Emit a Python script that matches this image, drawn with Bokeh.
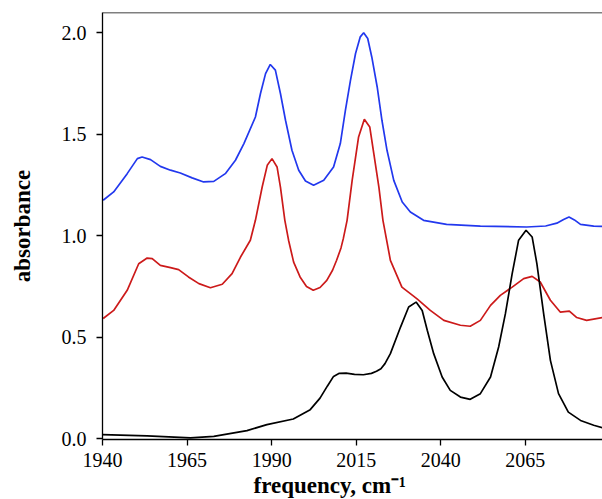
from bokeh.plotting import figure
from bokeh.models import Range1d, FixedTicker, Span, Title, CustomJSTickFormatter
from bokeh.embed import file_html
from bokeh.resources import INLINE

# ---- data ----
blue_f = [1940.2, 1943.3, 1947.3, 1950.3, 1951.7, 1954.2, 1957.1, 1960.1, 1963, 1966.5, 1969.9,
          1972.9, 1976.3, 1977.8, 1979.3, 1981.8, 1985.2, 1986.7, 1988.2, 1989.6, 1991.1, 1992.6,
          1994.1, 1996, 1998, 2000, 2002.4, 2005.4, 2008.3, 2010.3, 2011.8, 2013.3, 2014.8,
          2016.2, 2017.2, 2018.4, 2019.6, 2021.2, 2022.6, 2024.1, 2026.1, 2028.6, 2031, 2034.9,
          2041.7, 2051.7, 2065.4, 2071, 2074.3, 2076.3, 2077.9, 2079.5, 2081.3, 2085.2, 2087.8]
blue_a = [1.175, 1.216, 1.306, 1.38, 1.388, 1.375, 1.342, 1.323, 1.309, 1.285, 1.265,
          1.268, 1.306, 1.339, 1.372, 1.454, 1.585, 1.701, 1.799, 1.844, 1.816, 1.701,
          1.569, 1.421, 1.323, 1.27, 1.249, 1.273, 1.339, 1.454, 1.618, 1.766, 1.898,
          1.98, 2.0, 1.972, 1.881, 1.733, 1.569, 1.421, 1.273, 1.166, 1.117, 1.076,
          1.056, 1.047, 1.043, 1.048, 1.062, 1.08, 1.092, 1.078, 1.056, 1.047, 1.046]

red_f = [1940.2, 1943.3, 1947.3, 1950.7, 1953.2, 1954.7, 1957.1, 1960.1, 1962.5, 1965.4, 1968.5,
         1971.9, 1975.4, 1978.3, 1980.8, 1983.7, 1985.2, 1987.2, 1988.7, 1990.1, 1991.6, 1992.6,
         1993.9, 1995, 1996.5, 1998.4, 2000.3, 2002.3, 2004.3, 2006.3, 2008, 2009.2, 2010.5,
         2011.2, 2012.3, 2013.8, 2015.7, 2017.4, 2019, 2020.2, 2021.7, 2022.9, 2025.1, 2028.5,
         2032.9, 2036.9, 2040.9, 2045.8, 2048.7, 2051.7, 2054.7, 2057.6, 2061.1, 2064.5, 2067,
         2069.4, 2072.4, 2075.3, 2078, 2080.2, 2083.1, 2087.8]
red_a = [0.592, 0.632, 0.731, 0.862, 0.89, 0.887, 0.854, 0.843, 0.833, 0.797, 0.764,
         0.744, 0.761, 0.813, 0.895, 0.978, 1.076, 1.24, 1.347, 1.38, 1.339, 1.24,
         1.076, 0.978, 0.87, 0.797, 0.75, 0.731, 0.745, 0.78, 0.83, 0.879, 0.94,
         0.987, 1.076, 1.273, 1.487, 1.574, 1.536, 1.405, 1.24, 1.076, 0.879, 0.747,
         0.69, 0.632, 0.583, 0.559, 0.554, 0.583, 0.657, 0.706, 0.747, 0.789, 0.8,
         0.772, 0.682, 0.624, 0.629, 0.597, 0.583, 0.597]

black_f = [1940, 1953.2, 1966, 1972.9, 1982.7, 1988.6, 1996.4, 2001.4, 2004.3, 2006.5, 2008.3,
           2010, 2012, 2014.5, 2017.1, 2019.5, 2021, 2022.3, 2023.5, 2025.1, 2028.1, 2030.5,
           2032.7, 2034.5, 2036, 2037.9, 2040.4, 2042.8, 2045.8, 2048.7, 2051.7, 2054.7, 2057.1,
           2059.1, 2061.1, 2063, 2065.2, 2067, 2068.4, 2070.4, 2072.4, 2074.8, 2077.7, 2081.3,
           2085.2, 2087.8]
black_a = [0.02, 0.014, 0.004, 0.011, 0.04, 0.069, 0.097, 0.143, 0.2, 0.26, 0.307,
           0.322, 0.323, 0.317, 0.315, 0.322, 0.332, 0.345, 0.37, 0.419, 0.55, 0.649,
           0.673, 0.632, 0.534, 0.419, 0.304, 0.238, 0.205, 0.194, 0.222, 0.304, 0.452,
           0.616, 0.813, 0.978, 1.027, 0.994, 0.863, 0.616, 0.386, 0.222, 0.131, 0.09,
           0.066, 0.054]

x_ticks = [1940, 1965, 1990, 2015, 2040, 2065]
y_ticks = [0.0, 0.5, 1.0, 1.5, 2.0]

FONT = "Liberation Serif"

p = figure(frame_width=500, frame_height=427, output_backend="svg", toolbar_location=None,
           x_range=Range1d(1940, 2087.8), y_range=Range1d(-0.004, 2.1),
           min_border_left=102, min_border_top=12, min_border_right=0, min_border_bottom=0,
           y_axis_label="absorbance")
p.outline_line_color = None
p.grid.visible = False
p.background_fill_color = "white"
p.border_fill_color = "white"

p.line(blue_f, blue_a, line_color="#2238ee", line_width=1.7)
p.line(red_f, red_a, line_color="#cc1a1a", line_width=1.7)
p.line(black_f, black_a, line_color="black", line_width=1.7)

p.xaxis.ticker = FixedTicker(ticks=x_ticks)
p.yaxis.ticker = FixedTicker(ticks=y_ticks)
p.yaxis.formatter = CustomJSTickFormatter(code="return tick.toFixed(1);")

for ax in (p.xaxis[0], p.yaxis[0]):
    ax.axis_line_color = "black"
    ax.axis_line_width = 1.3
    ax.major_tick_line_color = "black"
    ax.major_tick_line_width = 1.3
    ax.major_tick_out = 6
    ax.major_tick_in = 0
    ax.minor_tick_line_color = None
    ax.major_label_text_font = FONT
    ax.major_label_text_font_size = "20px"
    ax.major_label_text_color = "black"
    ax.axis_label_text_font = FONT
    ax.axis_label_text_font_style = "bold"
    ax.axis_label_text_font_size = "23px"
    ax.axis_label_text_color = "black"

p.xaxis.major_label_standoff = 7
p.yaxis.major_label_standoff = 10
p.yaxis.axis_label_standoff = 24

# top frame line
p.add_layout(Span(location=2.1, dimension="width", line_color="black", line_width=1.3))

# x axis title, placed like the reference (left-shifted)
xt = Title(text="frequency, cm\u207b\u00b9", align="left", offset=151, standoff=2,
           text_font=FONT, text_font_style="bold", text_font_size="23px", text_color="black")
p.add_layout(xt, "below")

open("out.html", "w").write(file_html(p, INLINE))
